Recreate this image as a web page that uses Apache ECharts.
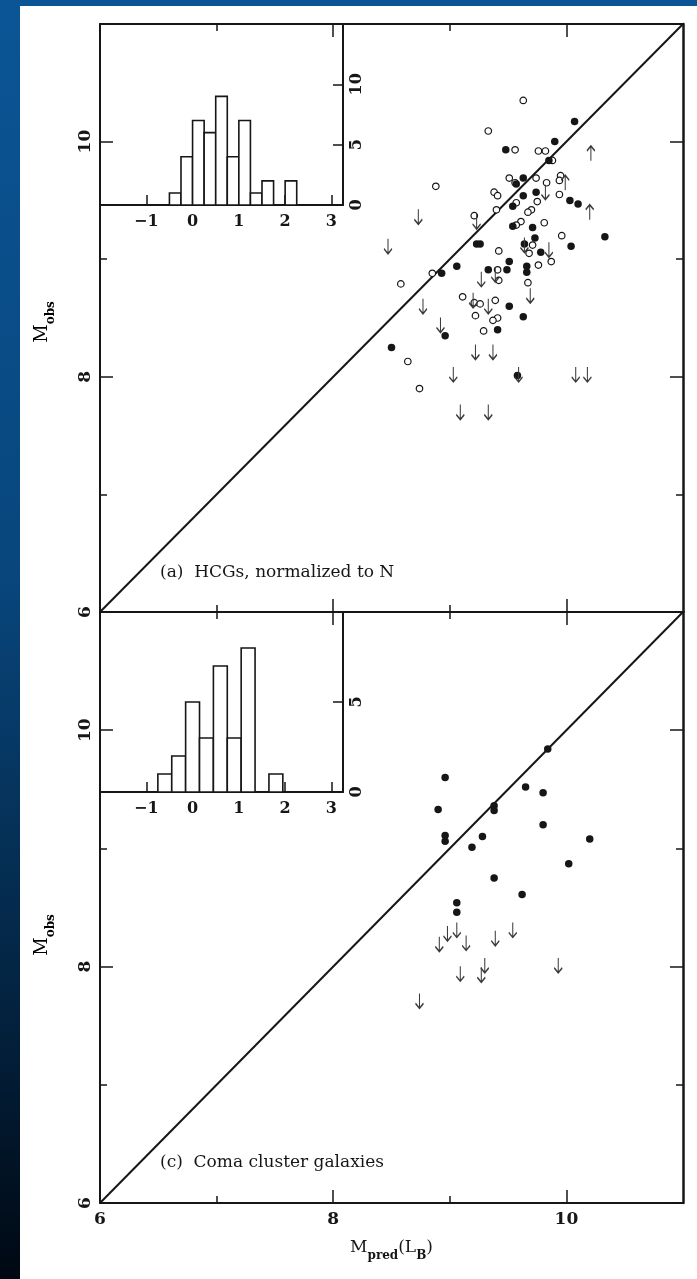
<!DOCTYPE html>
<html>
<head>
<meta charset="utf-8">
<script src="https://cdn.jsdelivr.net/npm/echarts@6/dist/echarts.min.js"></script>
<style>
  html, body { margin: 0; padding: 0; background: #fff; }
  #chart { width: 697px; height: 1279px; }
</style>
</head>
<body>
<div id="chart"></div>
<script>
// mass axis (both panels)
const massRange = [6, 11]
const majorTicks = [6, 8, 10]
const minorTicks = [7, 9]
const diagLine = [[6, 6], [11, 11]]

// (a) HCGs, normalized to N
const hcgFilled = [
  [10.07, 10.17], [9.90, 10.00], [9.48, 9.93], [9.85, 9.84], [9.63, 9.69], [9.57, 9.64],
  [9.74, 9.57], [9.63, 9.54], [10.03, 9.50], [10.10, 9.47], [9.54, 9.45], [9.54, 9.28],
  [9.71, 9.27], [9.73, 9.18], [9.64, 9.13], [10.04, 9.11], [10.33, 9.19], [9.78, 9.06],
  [9.23, 9.13], [9.26, 9.13], [9.51, 8.98], [9.06, 8.94], [8.93, 8.88], [9.33, 8.91],
  [9.49, 8.91], [9.66, 8.94], [9.66, 8.89], [9.51, 8.60], [9.63, 8.51], [9.41, 8.40],
  [8.96, 8.35], [8.50, 8.25], [9.58, 8.01]
]
const hcgOpen = [
  [9.63, 10.35], [9.33, 10.09], [9.56, 9.93], [9.76, 9.92], [9.82, 9.92], [9.88, 9.84],
  [8.88, 9.62], [9.51, 9.69], [9.56, 9.65], [9.74, 9.69], [9.83, 9.65], [9.95, 9.71],
  [9.94, 9.67], [9.38, 9.57], [9.41, 9.54], [9.94, 9.55], [9.75, 9.49], [9.57, 9.48],
  [9.40, 9.42], [9.21, 9.37], [9.70, 9.42], [9.67, 9.40], [9.61, 9.32], [9.81, 9.31],
  [9.57, 9.29], [9.96, 9.20], [9.71, 9.12], [9.42, 9.07], [9.68, 9.05], [9.87, 8.98],
  [9.76, 8.95], [8.85, 8.88], [8.58, 8.79], [9.41, 8.91], [9.42, 8.82], [9.67, 8.80],
  [9.11, 8.68], [9.21, 8.63], [9.26, 8.62], [9.39, 8.65], [9.22, 8.52], [9.41, 8.50],
  [9.37, 8.48], [9.29, 8.39], [8.64, 8.13], [8.74, 7.90]
]
const hcgUpper = [
  [8.73, 9.36], [8.47, 9.11], [9.23, 9.32], [9.82, 9.57], [9.85, 9.08], [9.27, 8.83],
  [9.39, 8.87], [9.69, 8.69], [8.77, 8.60], [8.92, 8.44], [9.20, 8.65], [9.33, 8.60],
  [9.22, 8.21], [9.37, 8.21], [9.03, 8.02], [9.59, 8.02], [10.08, 8.02], [10.18, 8.02],
  [9.09, 7.70], [9.33, 7.70], [9.64, 9.12]
]
const hcgLower = [[10.21, 9.90], [10.20, 9.40], [9.99, 9.65]]

// (c) Coma cluster galaxies
const comaFilled = [
  [9.84, 9.84], [8.96, 9.60], [9.65, 9.52], [9.80, 9.47], [8.90, 9.33], [9.38, 9.36],
  [9.38, 9.32], [9.80, 9.20], [8.96, 9.11], [8.96, 9.06], [9.28, 9.10], [9.19, 9.01],
  [10.20, 9.08], [10.02, 8.87], [9.38, 8.75], [9.62, 8.61], [9.06, 8.54], [9.06, 8.46]
]
const comaUpper = [
  [8.91, 8.19], [8.98, 8.28], [9.06, 8.31], [9.14, 8.20], [9.39, 8.24], [9.54, 8.31],
  [9.30, 8.01], [9.27, 7.93], [9.09, 7.94], [9.93, 8.01], [8.74, 7.71]
]

// inset histograms (bin start, count)
const histXTicks = [-1, 0, 1, 2, 3]
const histAStart = [-0.5, -0.25, 0, 0.25, 0.5, 0.75, 1.0, 1.25, 1.5, 1.75, 2.0]
const histACount = [1, 4, 7, 6, 9, 4, 7, 1, 2, 0, 2]
const histAWidth = 0.25
const histAYTicks = [0, 5, 10]
const histCStart = [-0.75, -0.45, -0.15, 0.15, 0.45, 0.75, 1.05, 1.35, 1.65]
const histCCount = [1, 2, 5, 3, 7, 3, 8, 0, 1]
const histCWidth = 0.3
const histCYTicks = [0, 5]

const ink = '#161616'
const serif = "'DejaVu Serif', 'Liberation Serif', serif"
const downArrow = 'path://M4,0L4,15M0,10L4,15L8,10'
const upArrow = 'path://M4,15L4,0M0,5L4,0L8,5'

const chart = echarts.init(document.getElementById('chart'))

function frameX(grid, withLabels, name) {
  const base = { gridIndex: grid, type: 'value', min: massRange[0], max: massRange[1], splitLine: { show: false } }
  const tickStyle = { color: ink, width: 1.5 }
  return [
    Object.assign({}, base, {
      position: 'bottom',
      axisLine: { onZero: false, lineStyle: { color: ink, width: 2 } },
      axisTick: { inside: true, length: 13, customValues: majorTicks, lineStyle: tickStyle },
      axisLabel: {
        show: withLabels, customValues: majorTicks, margin: 8,
        color: ink, fontFamily: serif, fontSize: 17, fontWeight: 'bold'
      },
      name: name || '',
      nameLocation: 'middle',
      nameGap: 36,
      nameTextStyle: {
        fontFamily: serif, color: ink,
        rich: {
          m: { fontSize: 17, fontFamily: serif, color: ink, padding: [0, 0, 6, 0], verticalAlign: 'bottom' },
          s: { fontSize: 12, fontFamily: serif, fontWeight: 'bold', color: ink, verticalAlign: 'bottom' }
        }
      }
    }),
    Object.assign({}, base, {
      position: 'bottom', axisLine: { show: false, onZero: false },
      axisTick: { inside: true, length: 7, customValues: minorTicks, lineStyle: tickStyle },
      axisLabel: { show: false }
    }),
    Object.assign({}, base, {
      position: 'top',
      axisLine: { onZero: false, lineStyle: { color: ink, width: 2 } },
      axisTick: { inside: true, length: 13, customValues: majorTicks, lineStyle: tickStyle },
      axisLabel: { show: false }
    }),
    Object.assign({}, base, {
      position: 'top', axisLine: { show: false, onZero: false },
      axisTick: { inside: true, length: 7, customValues: minorTicks, lineStyle: tickStyle },
      axisLabel: { show: false }
    })
  ]
}

function frameY(grid) {
  const base = { gridIndex: grid, type: 'value', min: massRange[0], max: massRange[1], splitLine: { show: false } }
  const tickStyle = { color: ink, width: 1.5 }
  return [
    Object.assign({}, base, {
      position: 'left',
      axisLine: { onZero: false, lineStyle: { color: ink, width: 2 } },
      axisTick: { inside: true, length: 13, customValues: majorTicks, lineStyle: tickStyle },
      axisLabel: {
        customValues: majorTicks, rotate: 90, margin: 6,
        color: ink, fontFamily: serif, fontSize: 17, fontWeight: 'bold'
      }
    }),
    Object.assign({}, base, {
      position: 'left', axisLine: { show: false, onZero: false },
      axisTick: { inside: true, length: 7, customValues: minorTicks, lineStyle: tickStyle },
      axisLabel: { show: false }
    }),
    Object.assign({}, base, {
      position: 'right',
      axisLine: { onZero: false, lineStyle: { color: ink, width: 2.5 } },
      axisTick: { inside: true, length: 13, customValues: majorTicks, lineStyle: tickStyle },
      axisLabel: { show: false }
    }),
    Object.assign({}, base, {
      position: 'right', axisLine: { show: false, onZero: false },
      axisTick: { inside: true, length: 7, customValues: minorTicks, lineStyle: tickStyle },
      axisLabel: { show: false }
    })
  ]
}

function histX(grid) {
  return {
    gridIndex: grid, type: 'value', min: -2, max: 3.25, position: 'bottom',
    splitLine: { show: false },
    axisLine: { onZero: false, lineStyle: { color: ink, width: 2 } },
    axisTick: { inside: true, length: 10, customValues: histXTicks, lineStyle: { color: ink, width: 1.5 } },
    axisLabel: {
      customValues: histXTicks, margin: 9, color: ink, fontFamily: serif, fontSize: 16, fontWeight: 'bold',
      formatter: v => String(v).replace('-', '\u2212')
    }
  }
}

function histY(grid, max, ticks) {
  return {
    gridIndex: grid, type: 'value', min: 0, max: max, position: 'right',
    splitLine: { show: false },
    axisLine: { onZero: false, lineStyle: { color: ink, width: 2 } },
    axisTick: { inside: true, length: 10, customValues: ticks.filter(t => t > 0), lineStyle: { color: ink, width: 1.5 } },
    axisLabel: { customValues: ticks, rotate: 90, margin: 6, color: ink, fontFamily: serif, fontSize: 16, fontWeight: 'bold' }
  }
}

function histSeries(xi, yi, starts, counts, width) {
  return {
    type: 'custom', xAxisIndex: xi, yAxisIndex: yi, z: 5,
    data: starts.map((s, i) => [s, s + width, counts[i]]).filter(d => d[2] > 0),
    renderItem: function (params, api) {
      const p0 = api.coord([api.value(0), api.value(2)])
      const p1 = api.coord([api.value(1), 0])
      return {
        type: 'rect',
        shape: { x: p0[0], y: p0[1], width: p1[0] - p0[0], height: p1[1] - p0[1] },
        style: { fill: '#fff', stroke: ink, lineWidth: 1.6 }
      }
    }
  }
}

function scatter(xi, yi, data, kind) {
  const s = { type: 'scatter', xAxisIndex: xi, yAxisIndex: yi, data: data, z: 4, silent: true }
  if (kind === 'filled') {
    s.symbol = 'circle'; s.symbolSize = 7.5; s.itemStyle = { color: ink, opacity: 1 }
  } else if (kind === 'open') {
    s.symbol = 'circle'; s.symbolSize = 6.5
    s.itemStyle = { color: '#fff', borderColor: ink, borderWidth: 1.2, opacity: 1 }
  } else {
    s.symbol = kind === 'down' ? downArrow : upArrow
    s.symbolSize = [8, 15]
    s.itemStyle = { color: 'rgba(0,0,0,0)', borderColor: '#3a3a3a', borderWidth: 1.4, opacity: 1 }
  }
  return s
}

function diag(xi, yi) {
  return {
    type: 'line', xAxisIndex: xi, yAxisIndex: yi, data: diagLine, symbol: 'none', z: 3,
    lineStyle: { color: ink, width: 2 }, silent: true
  }
}

// axes: grid0 x 0-3, grid1 x 4-7, grid2 x 8, grid3 x 9
const xAxes = [].concat(
  frameX(0, false),
  frameX(1, true, '{m|M}{s|pred}{m|(L}{s|B}{m|)}'),
  [histX(2), histX(3)]
)
const yAxes = [].concat(
  frameY(0),
  frameY(1),
  [histY(2, 15, histAYTicks), histY(3, 10, histCYTicks)]
)

const ylabelRich = {
  m: { fontSize: 18, fontFamily: serif, color: ink, padding: [0, 0, 6, 0], verticalAlign: 'bottom' },
  s: { fontSize: 12, fontFamily: serif, fontWeight: 'bold', color: ink, verticalAlign: 'bottom' }
}

chart.setOption({
  backgroundColor: '#ffffff',
  animation: false,
  grid: [
    { left: 100, top: 24, width: 583, height: 588 },
    { left: 100, top: 612, width: 583, height: 591 },
    { left: 100, top: 24, width: 243, height: 181 },
    { left: 100, top: 612, width: 243, height: 180 }
  ],
  xAxis: xAxes,
  yAxis: yAxes,
  graphic: [
    { type: 'rect', left: 0, top: 0, shape: { width: 697, height: 6 }, style: { fill: '#0b5596' }, silent: true },
    {
      type: 'rect', left: 0, top: 0, shape: { width: 20, height: 1279 }, silent: true,
      style: {
        fill: new echarts.graphic.LinearGradient(0, 0, 0, 1, [
          { offset: 0, color: '#0b5596' },
          { offset: 0.45, color: '#08467c' },
          { offset: 0.8, color: '#03213d' },
          { offset: 1, color: '#000812' }
        ])
      }
    },
    {
      type: 'text', x: 45, y: 322, rotation: Math.PI / 2, silent: true,
      style: { text: '{m|M}{s|obs}', rich: ylabelRich, align: 'center', verticalAlign: 'middle' }
    },
    {
      type: 'text', x: 45, y: 935, rotation: Math.PI / 2, silent: true,
      style: { text: '{m|M}{s|obs}', rich: ylabelRich, align: 'center', verticalAlign: 'middle' }
    },
    {
      type: 'text', left: 160, top: 564, silent: true,
      style: { text: '(a)  HCGs, normalized to N', fill: ink, font: "17px 'DejaVu Serif'" }
    },
    {
      type: 'text', left: 160, top: 1154, silent: true,
      style: { text: '(c)  Coma cluster galaxies', fill: ink, font: "17px 'DejaVu Serif'" }
    }
  ],
  series: [
    diag(0, 0),
    scatter(0, 0, hcgOpen, 'open'),
    scatter(0, 0, hcgFilled, 'filled'),
    scatter(0, 0, hcgUpper, 'down'),
    scatter(0, 0, hcgLower, 'up'),
    diag(4, 4),
    scatter(4, 4, comaFilled, 'filled'),
    scatter(4, 4, comaUpper, 'down'),
    histSeries(8, 8, histAStart, histACount, histAWidth),
    histSeries(9, 9, histCStart, histCCount, histCWidth)
  ]
})
</script>
</body>
</html>
